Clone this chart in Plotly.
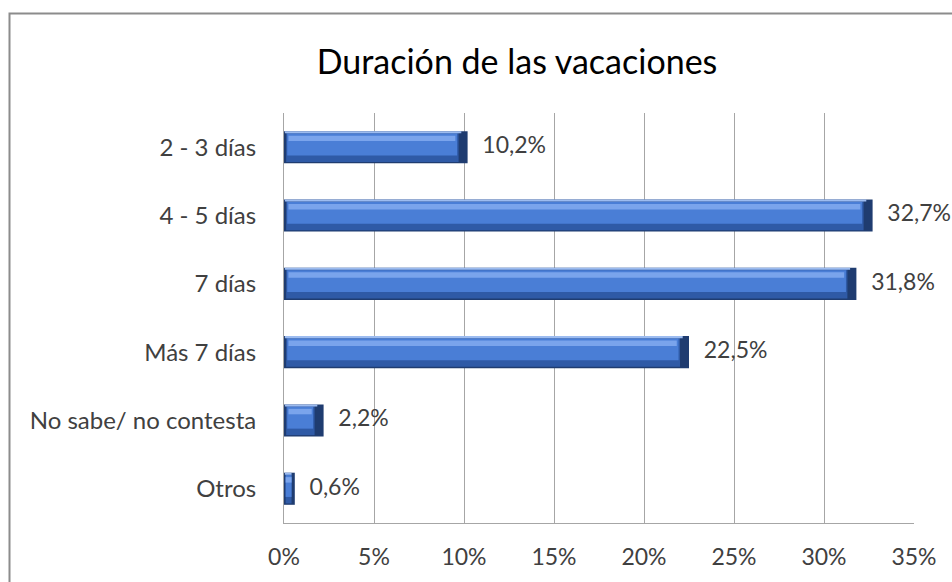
import numpy as np
import plotly.graph_objects as go

categories = ["2 - 3 días", "4 - 5 días", "7 días", "Más 7 días", "No sabe/ no contesta", "Otros"]
values = [10.2, 32.7, 31.8, 22.5, 2.2, 0.6]
x_ticks = [0, 5, 10, 15, 20, 25, 30, 35]
title_text = "Duración de las vacaciones"

vals = np.array(values)
FONT = "Lato, 'Open Sans', sans-serif"
TXT = "#404040"


def inner(left, right):
    # bevel insets, shrunk for very short bars
    l = np.minimum(left, vals * 0.15)
    r = np.minimum(right, vals * 0.3)
    return l, np.maximum(vals - l - r, 0)


fig = go.Figure()
# base (dark end caps / outline)
fig.add_trace(go.Bar(y=categories, x=vals, orientation="h", width=0.47,
                     marker=dict(color="#1f3c70", line=dict(width=0)),
                     hoverinfo="skip", showlegend=False))
layers = [
    (0.12, 0.50, 0.43, -0.215, "#2f5aa6"),   # lower shade
    (0.18, 0.58, 0.32, -0.20, "#4a7ed6"),    # body
    (0.25, 0.68, 0.08, -0.17, "#7aa4ec"),    # highlight
    (0.05, 0.35, 0.03, -0.235, "#9dbcf0"),   # top edge
]
for left, right, w, off, col in layers:
    b, length = inner(left, right)
    fig.add_trace(go.Bar(y=categories, x=length, base=b, orientation="h",
                         width=w, offset=off,
                         marker=dict(color=col, line=dict(width=0)),
                         hoverinfo="skip", showlegend=False))
# data labels
fig.add_trace(go.Scatter(y=categories, x=vals, mode="markers+text",
                         marker=dict(size=22, opacity=0),
                         text=[f"{v:.1f}%".replace(".", ",") for v in values],
                         textposition="middle right",
                         textfont=dict(family=FONT, size=23, color=TXT),
                         cliponaxis=False, hoverinfo="skip", showlegend=False))

fig.update_layout(
    width=952, height=582,
    margin=dict(l=284, r=38, t=113, b=59),
    paper_bgcolor="white", plot_bgcolor="white",
    barmode="overlay",
    separators=",.",
    font=dict(family=FONT, color=TXT),
    title=dict(text=title_text, x=517/952, xanchor="center", y=1-62/582, yanchor="middle",
               font=dict(family=FONT, size=34, color="#000000")),
    xaxis=dict(range=[0, 35], tickvals=x_ticks, ticktext=[f"{t}%" for t in x_ticks],
               showgrid=True, gridcolor="#a6a6a6", gridwidth=1,
               showline=True, linecolor="#a6a6a6", linewidth=1,
               zeroline=False, ticks="", ticklabelstandoff=13,
               tickfont=dict(family=FONT, size=23, color=TXT), fixedrange=True),
    yaxis=dict(categoryorder="array", categoryarray=categories, autorange="reversed",
               showgrid=False, showline=True, linecolor="#a6a6a6", linewidth=1,
               ticks="", ticklabelstandoff=22,
               tickfont=dict(family=FONT, size=24, color=TXT), fixedrange=True),
    shapes=[dict(type="rect", xref="paper", yref="paper",
                 x0=(9.5-284)/630, x1=(965-284)/630,
                 y0=(523-600)/410, y1=(523-13.5)/410,
                 line=dict(color="#8c8c8c", width=2), fillcolor="rgba(0,0,0,0)",
                 layer="below")],
)

fig.write_html("out.html", config={"displayModeBar": False},
               post_script="document.body.style.margin='0';")
